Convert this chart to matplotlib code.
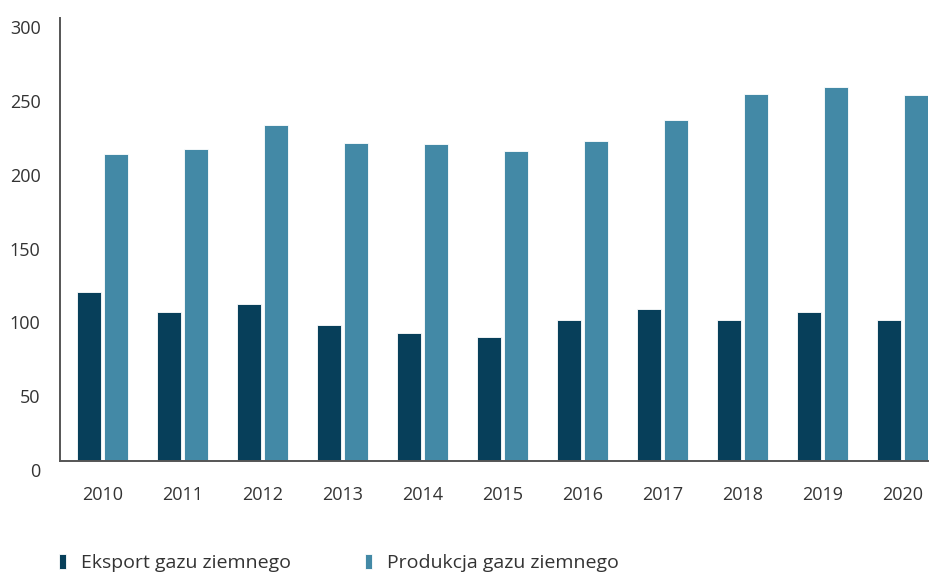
import matplotlib
matplotlib.use("Agg")
import matplotlib.pyplot as plt
import matplotlib.transforms as mtransforms
import numpy as np

# natural gas, bcm
years = ["2010", "2011", "2012", "2013", "2014", "2015", "2016", "2017", "2018", "2019", "2020"]
eksport = [114.4, 100.9, 106.3, 92.1, 86.7, 84.0, 95.5, 102.9, 95.5, 100.9, 95.5]
produkcja = [207.9, 211.2, 227.5, 215.3, 214.6, 209.9, 216.7, 230.9, 248.5, 253.2, 247.8]
y_ticks = [0, 50, 100, 150, 200, 250, 300]

c_eksport = "#073f5a"
c_produkcja = "#4389a6"
txt = "#333333"

plt.rcParams["font.family"] = ["Open Sans", "DejaVu Sans"]

fig = plt.figure(figsize=(9.3, 5.72), dpi=100)
ax = fig.add_axes([60 / 930, 1 - 461 / 572, 868 / 930, 443 / 572])

x = np.arange(len(years))
w = 0.3
gap = 0.0375
b1 = ax.bar(x - (w + gap) / 2, eksport, width=w, color=c_eksport,
            edgecolor="white", linewidth=0.6, label="Eksport gazu ziemnego")
b2 = ax.bar(x + (w + gap) / 2, produkcja, width=w, color=c_produkcja,
            edgecolor="white", linewidth=0.6, label="Produkcja gazu ziemnego")

ax.set_xlim(-0.53, 10.32)
ax.set_ylim(0, 300)
ax.set_xticks(x)
ax.set_xticklabels(years)
ax.set_yticks(y_ticks)

for side in ["top", "right"]:
    ax.spines[side].set_visible(False)
for side in ["left", "bottom"]:
    ax.spines[side].set_color("#555555")
    ax.spines[side].set_linewidth(1.4)

ax.tick_params(axis="both", length=0, labelsize=13, colors=txt)
ax.tick_params(axis="y", pad=14)
ax.tick_params(axis="x", pad=18)

# y labels sit a little below their value
off = mtransforms.ScaledTranslation(0, -9 / 100, fig.dpi_scale_trans)
for lab in ax.get_yticklabels():
    lab.set_transform(lab.get_transform() + off)

leg = fig.legend(handles=[b1, b2], loc="center left",
                 bbox_to_anchor=(59 / 930, 1 - 563 / 572), ncol=2, frameon=False,
                 fontsize=14, handlelength=0.38, handleheight=0.85,
                 handletextpad=0.75, columnspacing=3.8, borderpad=0, borderaxespad=0)
for t in leg.get_texts():
    t.set_color(txt)

fig.savefig("out.png", dpi=100)
